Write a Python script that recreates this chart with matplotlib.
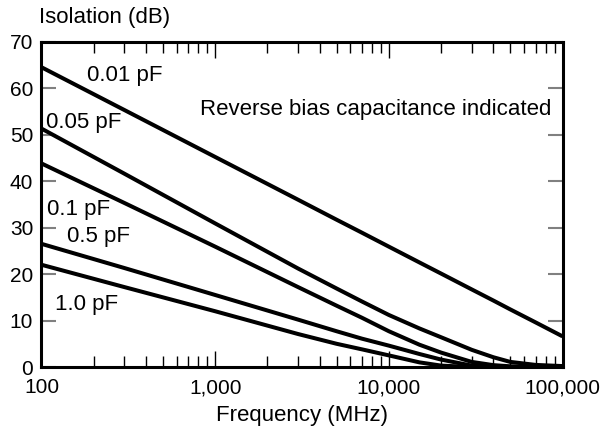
import matplotlib
matplotlib.use("Agg")
import matplotlib.pyplot as plt
from matplotlib.ticker import FixedLocator, FuncFormatter, NullFormatter

freqs = [100, 300, 1000, 3000, 5000, 7000, 10000, 15000, 20000, 30000,
         40000, 50000, 70000, 100000]

# Isolation (dB) for each reverse bias capacitance
iso_001pf = [64.5, 55.3, 45.2, 36.0, 31.7, 28.9, 25.9, 22.5, 20.1, 16.7,
             14.3, 12.4, 9.6, 6.6]
iso_005pf = [51.3, 41.6, 30.9, 21.2, 16.9, 14.1, 11.2, 8.3, 6.4, 3.7,
             2.1, 1.1, 0.45, 0.2]
iso_01pf = [43.8, 35.3, 25.9, 17.2, 13.2, 10.6, 7.7, 4.8, 3.1, 1.1,
            0.4, 0.15, 0.05, 0.0]
iso_05pf = [26.5, 21.3, 15.5, 10.2, 7.7, 6.1, 4.6, 2.8, 1.6, 0.3,
            0.05, 0.0, 0.0, 0.0]
iso_10pf = [22.0, 17.2, 12.0, 7.1, 5.0, 3.8, 2.5, 1.0, 0.3, 0.0,
            0.0, 0.0, 0.0, 0.0]

curves = [iso_001pf, iso_005pf, iso_01pf, iso_05pf, iso_10pf]

# Curve labels and where they sit (freq, dB)
labels = ["0.01 pF", "0.05 pF", "0.1 pF", "0.5 pF", "1.0 pF"]
label_pos = [(183, 62.8), (105.7, 52.6), (107, 33.8), (139.7, 28.0), (119.6, 13.4)]

x_ticks = [100, 1000, 10000, 100000]
y_ticks = [0, 10, 20, 30, 40, 50, 60, 70]


def main():
    plt.rcParams["font.family"] = ["Liberation Sans", "DejaVu Sans"]

    fig = plt.figure(figsize=(6.04, 4.28), dpi=100)
    ax = fig.add_axes([0.0687, 0.1425, 0.8626, 0.7601])

    for vals in curves:
        ax.plot(freqs, vals, color="black", linewidth=2.9,
                solid_capstyle="butt", solid_joinstyle="round")

    ax.set_xscale("log")
    ax.set_xlim(100, 100000)
    ax.set_ylim(0, 70)

    # Log ticks: majors per decade, minors at 2..9
    minors = [m * d for d in (100, 1000, 10000) for m in range(2, 10)]
    ax.xaxis.set_major_locator(FixedLocator(x_ticks))
    ax.xaxis.set_minor_locator(FixedLocator(minors))
    ax.xaxis.set_major_formatter(FuncFormatter(lambda v, p: f"{v:,.0f}"))
    ax.xaxis.set_minor_formatter(NullFormatter())
    ax.set_yticks(y_ticks)

    ax.tick_params(axis="x", which="major", direction="in", length=11.5,
                   width=1.0, top=True, labelsize=15, pad=8)
    ax.tick_params(axis="x", which="minor", direction="in", length=7.8,
                   width=1.0, top=True)
    ax.tick_params(axis="y", direction="in", length=10.8, width=1.5,
                   color="#808080", right=True, labelsize=15, pad=6)

    for side in ["left", "right", "top", "bottom"]:
        ax.spines[side].set_linewidth(2.2)

    ax.set_xlabel("Frequency (MHz)", fontsize=16, labelpad=6)
    ax.text(-0.004, 1.057, "Isolation (dB)", transform=ax.transAxes,
            fontsize=16, ha="left", va="baseline")

    for text, (fx, fy) in zip(labels, label_pos):
        ax.text(fx, fy, text, fontsize=16, ha="left", va="center")

    ax.text(817, 55.5, "Reverse bias capacitance indicated", fontsize=16,
            ha="left", va="center")

    fig.savefig("out.png", dpi=100)


if __name__ == "__main__":
    main()
